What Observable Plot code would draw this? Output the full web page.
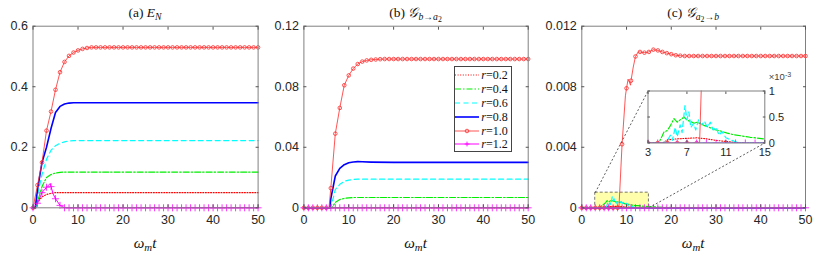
<!DOCTYPE html>
<html><head><meta charset="utf-8">
<script src="https://cdn.jsdelivr.net/npm/d3@7"></script>
<script src="https://cdn.jsdelivr.net/npm/@observablehq/plot@0.6"></script>
<style>
body{margin:0;background:#fff;}
#wrap{position:relative;width:830px;height:260px;overflow:hidden;background:#fff;}
#wrap svg{position:absolute;left:0;top:0;background:transparent;max-width:none;}
.tx{position:absolute;font-family:"Liberation Serif",serif;color:#111;white-space:nowrap;transform:translate(-50%,-50%);line-height:1;}
.tx sub{font-size:0.72em;vertical-align:-0.3em;line-height:0;}
.tx sub sub{font-size:0.8em;}
#legend{position:absolute;border:1px solid #444;background:#fff;box-sizing:border-box;}
.lrow{position:absolute;left:0;height:12px;font-family:"Liberation Serif",serif;font-size:12px;color:#111;white-space:nowrap;}
.lrow svg{position:absolute !important;left:1px;top:0;}
.lrow span{position:absolute;left:26px;top:-1px;}
</style></head><body><div id="wrap"></div>
<script>
// ---------- data ----------
const X_TICKS = [0, 10, 20, 30, 40, 50];
const A_Y_TICKS = [0, 0.2, 0.4, 0.6];
const B_Y_TICKS = [0, 0.04, 0.08, 0.12];
const C_Y_TICKS = [0, 0.004, 0.008, 0.012];
const INSET_X_TICKS = [3, 7, 11, 15];
const INSET_Y_TICKS = [0, 0.0005, 0.001];
const INSET_T = [3, 15];
const INSET_V = [0, 0.001];
const R_LABELS = ["0.2", "0.4", "0.6", "0.8", "1.0", "1.2"];

// panel (a) E_N
const a_r02 = [[0,0],[0.5,0],[1,0.018],[2,0.036],[3,0.044],[4,0.048],[5,0.05],[50,0.05]];
const a_r04 = [[0,0],[0.5,0],[1,0.02],[2,0.07],[3,0.1],[4,0.11],[5,0.115],[6,0.117],[7,0.118],[50,0.118]];
const a_r06 = [[0,0],[0.6,0],[1,0.04],[2,0.11],[3,0.16],[4,0.19],[5,0.205],[6,0.213],[7,0.218],[8,0.221],[9,0.222],[50,0.222]];
const a_r08 = [[0,0],[0.5,0],[1,0.06],[2,0.15],[3,0.2],[4,0.262],[5,0.315],[6,0.335],[7,0.343],[8,0.346],[9,0.347],[50,0.347]];
const a_r10 = [0,0.075,0.15,0.255,0.318,0.39,0.448,0.482,0.502,0.513,0.52,0.525,0.528,
  0.53,0.53,0.53,0.53,0.53,0.53,0.53,0.53,0.53,0.53,0.53,0.53,0.53,0.53,0.53,0.53,0.53,0.53,0.53,
  0.53,0.53,0.53,0.53,0.53,0.53,0.53,0.53,0.53,0.53,0.53,0.53,0.53,0.53,0.53,0.53,0.53,0.53,0.53];
const a_r10_extra = [];
const a_r12 = [0,0.015,0.05,0.068,0.07,0.03,0.008,0,0,0,0,0,0,0,0,0,0,0,0,0,0,0,0,0,0,0,
  0,0,0,0,0,0,0,0,0,0,0,0,0,0,0,0,0,0,0,0,0,0,0,0,0];
const a_r12_extra = [[3.8,0.08],[4.5,0.045]];

// panel (b) G b->a2
const b_r02 = [[0,0],[50,0]];
const b_r04 = [[0,0],[6.2,0],[7,0.0035],[8,0.0055],[9,0.0062],[10,0.0066],[11,0.0068],[50,0.0068]];
const b_r06 = [[0,0],[6,0],[7,0.012],[8,0.0155],[9,0.0175],[10,0.0183],[11,0.0187],[12,0.0189],[50,0.0189]];
const b_r08 = [[0,0],[5.8,0],[6,0.006],[7,0.021],[8,0.026],[9,0.0285],[10,0.0298],[11,0.0303],[12,0.0305],[13,0.0304],[15,0.0302],[20,0.03],[50,0.03]];
const b_r10 = [0,0,0,0,0,0,0.013,0.049,0.066,0.081,0.0875,0.092,0.095,0.0966,0.0974,0.0978,0.098,0.0982,
  0.0983,0.0983,0.0983,0.0983,0.0983,0.0983,0.0983,0.0983,0.0983,0.0983,0.0983,0.0983,0.0983,0.0983,0.0983,
  0.0983,0.0983,0.0983,0.0983,0.0983,0.0983,0.0983,0.0983,0.0983,0.0983,0.0983,0.0983,0.0983,0.0983,0.0983,0.0983,0.0983,0.0983];
const b_r10_extra = [[5.6,0]];
const b_r12 = [0,0,0,0,0,0,0,0,0,0,0,0,0,0,0,0,0,0,0,0,0,0,0,0,0,0,
  0,0,0,0,0,0,0,0,0,0,0,0,0,0,0,0,0,0,0,0,0,0,0,0,0];
const b_r12_extra = [];

// panel (c) G a2->b
const c_r02 = [[0,0],[4.5,0],[5,0.00006],[6,0.00008],[7,0.00009],[8,0.0001],[9,0.00008],[10,0.00005],[11,0.00003],[12,0.00001],[13,0],[50,0]];
const c_r04 = [[0,0],[4.1,0],[4.47,0.00014],[4.64,0.00021],[4.98,0.00024],[5.32,0.00034],[5.67,0.00047],[6.0,0.0004],[6.35,0.00045],[6.7,0.0005],[7.03,0.000435],[7.38,0.000415],[7.72,0.00038],[8.06,0.0004],[8.4,0.00037],[8.74,0.00034],[9.26,0.000305],[9.77,0.00026],[10.45,0.00023],[11.14,0.00019],[11.8,0.00016],[12.5,0.00014],[13.5,0.00011],[14.9,0.00008],[16,0.00006],[20,0.00002],[30,0],[50,0]];
const c_r06 = [[0,0],[4.6,0],[5.0,0.00005],[5.3,0.00015],[5.5,0.00005],[5.8,0.0003],[6.0,0.00012],[6.3,0.00035],[6.5,0.0002],[6.8,0.00072],[7.0,0.00045],[7.2,0.0006],[7.4,0.0003],[7.7,0.00038],[7.9,0.00025],[8.2,0.00045],[8.5,0.00035],[8.8,0.00042],[9.1,0.0003],[9.4,0.0004],[9.7,0.00025],[10.0,0.0003],[10.3,0.00015],[10.6,0.00022],[11.0,0.0001],[11.5,0.00006],[12,0.00002],[12.5,0],[50,0]];
const c_r08 = [[0,0],[50,0]];
const c_r10 = [0,0,0,0,0,0,0,0,0,0.0042,0.0079,0.0084,0.01,0.0103,0.01025,0.0103,0.01045,0.0104,0.0103,0.01022,0.01015,0.01008,0.01005,
  0.01003,0.01003,0.01003,0.01003,0.01003,0.01003,0.01003,0.01003,0.01003,0.01003,0.01003,0.01003,0.01003,0.01003,
  0.01003,0.01003,0.01003,0.01003,0.01003,0.01003,0.01003,0.01003,0.01003,0.01003,0.01003,0.01003,0.01003,0.01003];
const c_r10_extra = [[8.3,0],[9.75,0.0074],[10.35,0.0085],[10.9,0.0081],[11.5,0.0093],[12.6,0.0103]];
const c_r12 = [0,0,0,0,0,0,0,0,0,0,0,0,0,0,0,0,0,0,0,0,0,0,0,0,0,0,
  0,0,0,0,0,0,0,0,0,0,0,0,0,0,0,0,0,0,0,0,0,0,0,0,0];
const c_r12_extra = [];

// ---------- styles ----------
const STY = [
  {stroke:"#ff0000", strokeWidth:1.1, dash:"1,1.6"},
  {stroke:"#00ee00", strokeWidth:1.2, dash:"6,2,1.5,2"},
  {stroke:"#00ffff", strokeWidth:1.2, dash:"5,3.5"},
  {stroke:"#0000ff", strokeWidth:1.6, dash:null},
  {stroke:"#ff2a2a", strokeWidth:0.8, dash:null, marker:"circle"},
  {stroke:"#ff00ff", strokeWidth:1, dash:null, marker:"plus"}
];

const pairs = arr => arr.map(([t, v]) => ({t, v}));
const sampled = (vals, extra) => vals.map((v, i) => ({t: i, v})).concat(pairs(extra)).sort((a, b) => a.t - b.t);

function seriesMarks(list, clip) {
  const out = [];
  list.forEach((data, k) => {
    const s = STY[k];
    out.push(Plot.line(data, {x:"t", y:"v", stroke:s.stroke, strokeWidth:s.strokeWidth, strokeDasharray:s.dash, clip}));
    if (s.marker) {
      out.push(Plot.dot(data.filter(d => Number.isInteger(d.t)), {x:"t", y:"v", symbol:s.marker, r: s.marker === "plus" ? 2.4 : 1.8,
        stroke:s.stroke, fill:"none", strokeWidth:0.8, clip}));
    }
  });
  return out;
}

function axesMarks(xTicks, yTicks, yFmt, fs, pad) {
  const tc = "#555";
  return [
    Plot.axisX(xTicks, {anchor:"bottom", tickSize:0, tickPadding:pad.x, label:null, fontSize:fs, fill:"#262626"}),
    Plot.axisX(xTicks, {anchor:"bottom", tickSize:3, dy:-3, fill:"none", label:null, stroke:tc}),
    Plot.axisX(xTicks, {anchor:"top", tickSize:3, dy:3, fill:"none", label:null, stroke:tc}),
    Plot.axisY(yTicks, {anchor:"left", tickSize:0, tickPadding:pad.y, tickFormat:yFmt, label:null, fontSize:fs, fill:"#262626"}),
    Plot.axisY(yTicks, {anchor:"left", tickSize:3, dx:3, fill:"none", label:null, stroke:tc}),
    Plot.axisY(yTicks, {anchor:"right", tickSize:3, dx:-3, fill:"none", label:null, stroke:tc})
  ];
}

const W = 830, H = 260, TOP = 25.7, BOT = 207.3;
const fmt = d => d === 0 ? "0" : String(d);
const wrap = document.getElementById("wrap");

function panel(left, right, yTicks, list, extra = {}) {
  const p = Plot.plot({
    width: W, height: H,
    marginLeft: left, marginRight: W - right, marginTop: TOP, marginBottom: H - BOT,
    style: {background:"transparent", fontFamily:"'Liberation Sans', Arial, sans-serif", fontSize:"12.5px", color:"#262626"},
    x: {domain:[0, 50]},
    y: {domain:[yTicks[0], yTicks[yTicks.length - 1]]},
    marks: [
      ...(extra.before || []),
      ...seriesMarks(list, false),
      ...(extra.after || []),
      Plot.frame({stroke:"#808080"}),
      ...axesMarks(X_TICKS, yTicks, fmt, 12.5, {x:7, y:5})
    ]
  });
  wrap.appendChild(p);
  return p;
}

const aList = [pairs(a_r02), pairs(a_r04), pairs(a_r06), pairs(a_r08), sampled(a_r10, a_r10_extra), sampled(a_r12, a_r12_extra)];
const bList = [pairs(b_r02), pairs(b_r04), pairs(b_r06), pairs(b_r08), sampled(b_r10, b_r10_extra), sampled(b_r12, b_r12_extra)];
const cList = [pairs(c_r02), pairs(c_r04), pairs(c_r06), pairs(c_r08), sampled(c_r10, c_r10_extra), sampled(c_r12, c_r12_extra)];

const A = {l:32.5, r:257.6}, B = {l:303.4, r:527.7}, C = {l:581.3, r:805};
const INSET = {l:647.5, r:764.3, t:90.5, b:142.5};

panel(A.l, A.r, A_Y_TICKS, aList);
panel(B.l, B.r, B_Y_TICKS, bList);

// connectors from zoom box to inset, computed through the panel (c) scales
const cx = Plot.scale({x:{domain:[0, 50], range:[C.l, C.r]}});
const cy = Plot.scale({y:{domain:[0, 0.012], range:[BOT, TOP]}});
const connectors = [
  {x1: INSET_T[0], y1: INSET_V[1], x2: cx.invert(INSET.l), y2: cy.invert(INSET.t)},
  {x1: INSET_T[1], y1: INSET_V[0], x2: cx.invert(INSET.r), y2: cy.invert(INSET.b)}
];
panel(C.l, C.r, C_Y_TICKS, cList, {
  before: [Plot.rect([{x1:INSET_T[0], x2:INSET_T[1], y1:INSET_V[0], y2:INSET_V[1]}],
    {x1:"x1", x2:"x2", y1:"y1", y2:"y2", fill:"#ffff66", fillOpacity:0.55, stroke:"#555", strokeDasharray:"3,2", strokeWidth:0.8})],
  after: [Plot.link(connectors, {x1:"x1", y1:"y1", x2:"x2", y2:"y2", stroke:"#333", strokeDasharray:"2,2", strokeWidth:0.8})]
});

// inset
const inset = Plot.plot({
  width: W, height: H,
  marginLeft: INSET.l, marginRight: W - INSET.r, marginTop: INSET.t, marginBottom: H - INSET.b,
  style: {background:"transparent", fontFamily:"'Liberation Sans', Arial, sans-serif", fontSize:"11px", color:"#262626"},
  x: {domain: INSET_T},
  y: {domain: INSET_V},
  marks: [
    Plot.frame({fill:"white", stroke:"none"}),
    ...seriesMarks(cList, true),
    Plot.frame({stroke:"#808080"}),
    Plot.axisX(INSET_X_TICKS, {anchor:"bottom", tickSize:0, tickPadding:5, label:null, fontSize:11, fill:"#262626"}),
    Plot.axisX(INSET_X_TICKS, {anchor:"bottom", tickSize:2.5, dy:-2.5, fill:"none", label:null, stroke:"#555"}),
    Plot.axisX(INSET_X_TICKS, {anchor:"top", tickSize:2.5, dy:2.5, fill:"none", label:null, stroke:"#555"}),
    Plot.axisY(INSET_Y_TICKS, {anchor:"right", tickSize:0, tickPadding:4, tickFormat:d => String(+(d * 1000).toFixed(1)), label:null, fontSize:11, fill:"#262626"}),
    Plot.axisY(INSET_Y_TICKS, {anchor:"right", tickSize:2.5, dx:-2.5, fill:"none", label:null, stroke:"#555"}),
    Plot.axisY(INSET_Y_TICKS, {anchor:"left", tickSize:2.5, dx:2.5, fill:"none", label:null, stroke:"#555"})
  ]
});
wrap.appendChild(inset);

// ---------- text ----------
function addText(html, x, y, size, extra = "") {
  const d = document.createElement("div");
  d.className = "tx";
  d.style.left = x + "px"; d.style.top = y + "px"; d.style.fontSize = size + "px";
  if (extra) d.style.cssText += extra;
  d.innerHTML = html;
  wrap.appendChild(d);
}
const cA = (A.l + A.r) / 2, cB = (B.l + B.r) / 2, cC = (C.l + C.r) / 2;
addText("(a) <i>E</i><sub><i>N</i></sub>", cA, 13, 13.5);
addText("(b) <i>𝒢</i><sub><i>b</i>→<i>a</i><sub>2</sub></sub>", cB, 13, 13.5);
addText("(c) <i>𝒢</i><sub><i>a</i><sub>2</sub>→<i>b</i></sub>", cC, 13, 13.5);
const xl = "<i>ω</i><sub><i>m</i></sub><i>t</i>";
addText(xl, cA, 243, 15);
addText(xl, cB, 243, 15);
addText(xl, cC, 243, 15);
addText("×10<sup style='font-size:0.75em;vertical-align:0.5em;line-height:0'>-3</sup>", 780, 77, 9.5,
  "font-family:'Liberation Sans',Arial,sans-serif;color:#444;");

// ---------- legend ----------
const lg = document.createElement("div");
lg.id = "legend";
lg.style.left = "454.3px"; lg.style.top = "65.7px"; lg.style.width = "58px"; lg.style.height = "86.5px";
wrap.appendChild(lg);
R_LABELS.forEach((lab, k) => {
  const s = STY[k];
  const row = document.createElement("div");
  row.className = "lrow";
  row.style.top = (2.3 + k * 13.9) + "px";
  row.style.width = "56px";
  lg.appendChild(row);
  const sv = d3.select(row).append("svg").attr("width", 24).attr("height", 12);
  sv.append("line").attr("x1", 0).attr("x2", 24).attr("y1", 6).attr("y2", 6)
    .attr("stroke", s.stroke).attr("stroke-width", s.strokeWidth).attr("stroke-dasharray", s.dash);
  if (s.marker === "circle") sv.append("circle").attr("cx", 12).attr("cy", 6).attr("r", 1.8).attr("fill", "none").attr("stroke", s.stroke).attr("stroke-width", 0.8);
  if (s.marker === "plus") sv.append("path").attr("d", "M9.6,6H14.4M12,3.6V8.4").attr("stroke", s.stroke).attr("stroke-width", 0.9);
  d3.select(row).append("span").html("<i>r</i>=" + lab);
});
</script></body></html>
